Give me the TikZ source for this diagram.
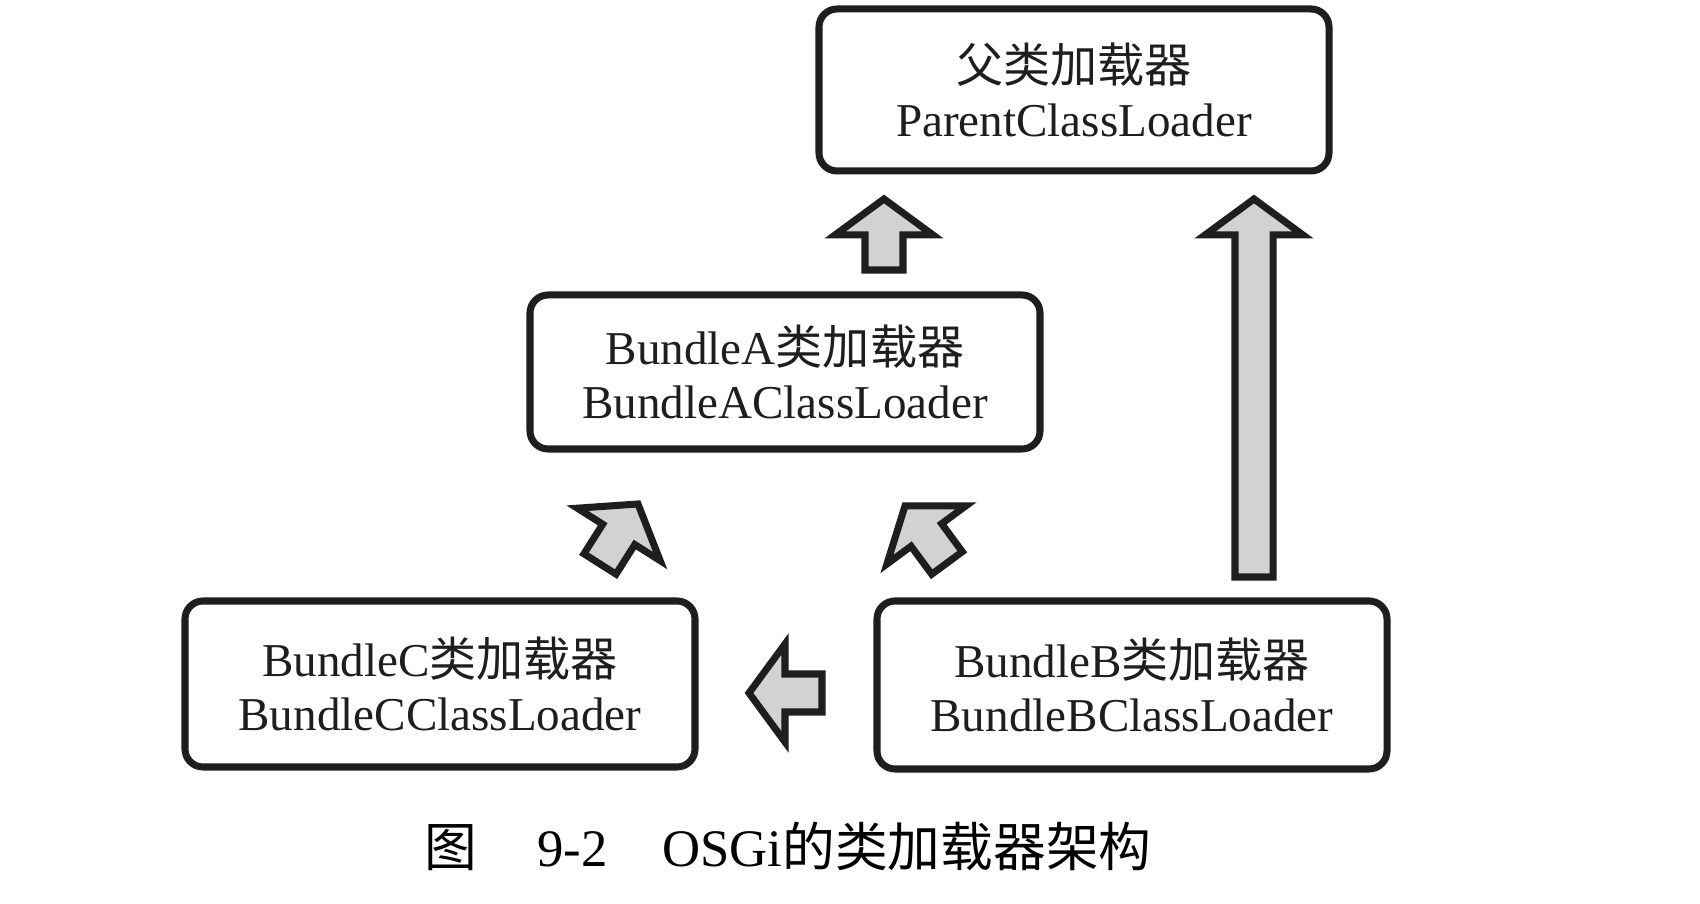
\documentclass[tikz,border=0pt]{standalone}
\usepackage{fontspec}
\setmainfont{Liberation Serif}
\newfontfamily\cjk{Noto Sans CJK SC}
\usetikzlibrary{calc,positioning}
\definecolor{inkline}{HTML}{1E1E1E}
\definecolor{arrowfill}{HTML}{D2D2D2}

% outlined block arrow from #1 to #2
\newcommand{\fatarrow}[2]{%
  \coordinate (hb) at ($(#2)!0.36cm!(#1)$);
  \draw[fatarr] ($(#1)!0.19cm!90:(#2)$) -- ($(hb)!0.19cm!90:(#2)$) -- ($(hb)!0.49cm!90:(#2)$) -- (#2)
    -- ($(hb)!0.49cm!-90:(#2)$) -- ($(hb)!0.19cm!-90:(#2)$) -- ($(#1)!0.19cm!-90:(#2)$) -- cycle;
}

\begin{document}
\begin{tikzpicture}[
  loader/.style={rectangle, draw=inkline, line width=2pt, rounded corners=0.18cm, fill=white,
    minimum width=5.1cm, minimum height=1.62cm, align=center, text=inkline,
    font=\fontsize{13.4}{15.6}\selectfont},
  fatarr/.style={draw=inkline, fill=arrowfill, line width=2pt, line join=miter}
]
  \useasboundingbox (0,0) rectangle (17,9.04);

  \node[loader] (parent) at (10.74,8.14) {{\cjk 父类加载器}\\ParentClassLoader};
  \node[loader, minimum height=1.54cm] (bundleA) at (7.85,5.32) {BundleA{\cjk 类加载器}\\BundleAClassLoader};
  \node[loader, minimum height=1.66cm] (bundleC) at (4.40,2.20) {BundleC{\cjk 类加载器}\\BundleCClassLoader};
  \node[loader, minimum height=1.68cm] (bundleB) at (11.32,2.19) {BundleB{\cjk 类加载器}\\BundleBClassLoader};

  % arrow ends
  \coordinate (a2p-s) at (8.84,6.34);  \coordinate (a2p-e) at (8.84,7.05);
  \coordinate (b2p-s) at (12.54,3.27); \coordinate (b2p-e) at (12.54,7.05);
  \coordinate (c2a-s) at (6.00,3.40);  \coordinate (c2a-e) at (6.38,4.00);
  \coordinate (b2a-s) at (9.47,3.41);  \coordinate (b2a-e) at (9.05,3.98);
  \coordinate (b2c-s) at (8.22,2.11);  \coordinate (b2c-e) at (7.49,2.11);

  \fatarrow{a2p-s}{a2p-e}
  \fatarrow{b2p-s}{b2p-e}
  \fatarrow{c2a-s}{c2a-e}
  \fatarrow{b2a-s}{b2a-e}
  \fatarrow{b2c-s}{b2c-e}

  \node[font=\fontsize{15}{18}\selectfont] (caption) at (7.88,0.58)
    {{\cjk 图}\hspace{0.6cm}9-2\hspace{0.55cm}OSGi{\cjk 的类加载器架构}};
\end{tikzpicture}
\end{document}
